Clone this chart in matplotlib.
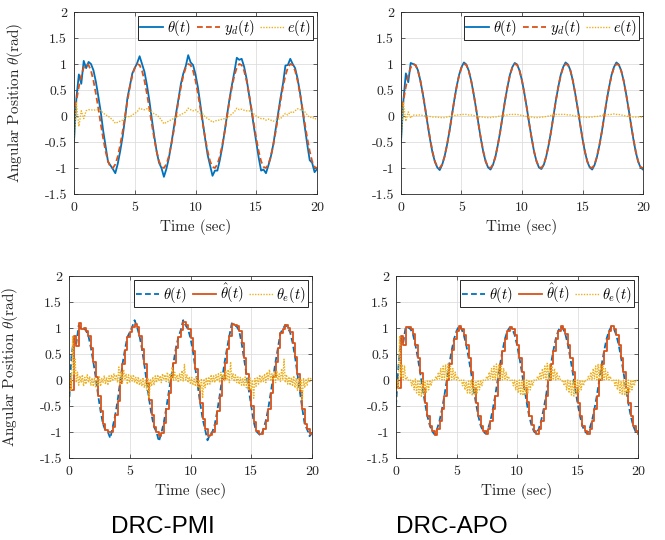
import numpy as np
import matplotlib
matplotlib.use("Agg")
import matplotlib.pyplot as plt

plt.rcParams['font.family'] = ['cmr10', 'DejaVu Serif']
plt.rcParams['mathtext.fontset'] = 'cm'
plt.rcParams['axes.unicode_minus'] = False
plt.rcParams['axes.formatter.use_mathtext'] = True

# ---------------- data ----------------
t = np.arange(101) * 0.2          # 0 .. 20 s
t_fine = np.arange(201) * 0.1     # 0 .. 20 s

x_ticks = [0, 5, 10, 15, 20]
x_tick_labels = ['0', '5', '10', '15', '20']
y_ticks = [-1.5, -1, -0.5, 0, 0.5, 1, 1.5, 2]
y_tick_labels = ['-1.5', '-1', '-0.5', '0', '0.5', '1', '1.5', '2']

y_d = [0.00, 0.30, 0.56, 0.78, 0.93, 1.00, 0.98, 0.87, 0.68, 0.43, 0.15, -0.15, -0.43, -0.68, -0.87, -0.98, -1.00, -0.93, -0.78, -0.56, -0.30,
       0.00, 0.30, 0.56, 0.78, 0.93, 1.00, 0.98, 0.87, 0.68, 0.43, 0.15, -0.15, -0.43, -0.68, -0.87, -0.98, -1.00, -0.93, -0.78, -0.56, -0.30,
       0.00, 0.30, 0.56, 0.78, 0.93, 1.00, 0.98, 0.87, 0.68, 0.43, 0.15, -0.15, -0.43, -0.68, -0.87, -0.98, -1.00, -0.93, -0.78, -0.56, -0.30,
       0.00, 0.30, 0.56, 0.78, 0.93, 1.00, 0.98, 0.87, 0.68, 0.43, 0.15, -0.15, -0.43, -0.68, -0.87, -0.98, -1.00, -0.93, -0.78, -0.56, -0.30,
       0.00, 0.30, 0.56, 0.78, 0.93, 1.00, 0.98, 0.87, 0.68, 0.43, 0.15, -0.15, -0.43, -0.68, -0.87, -0.98, -1.00]

pmi_theta = [-0.50, 0.35, 0.80, 0.62, 1.06, 0.92, 1.04, 1.00, 0.88, 0.66, 0.38, 0.08, -0.28, -0.58, -0.88, -0.95, -1.02, -1.10, -0.92, -0.68, -0.40,
             -0.05, 0.35, 0.58, 0.82, 0.92, 1.02, 1.15, 1.00, 0.85, 0.60, 0.30, -0.05, -0.38, -0.68, -0.90, -1.00, -1.17, -1.02, -0.82, -0.55, -0.25,
             0.05, 0.33, 0.62, 0.82, 0.96, 1.17, 1.03, 0.98, 0.80, 0.55, 0.22, -0.12, -0.45, -0.75, -0.95, -1.15, -1.05, -1.05, -0.85, -0.60, -0.30,
             0.02, 0.33, 0.60, 0.85, 1.12, 1.08, 1.10, 0.95, 0.72, 0.42, 0.12, -0.20, -0.50, -0.80, -1.05, -1.03, -1.10, -0.95, -0.78, -0.55, -0.25,
             0.05, 0.35, 0.62, 0.97, 0.98, 1.10, 1.00, 0.92, 0.72, 0.45, 0.12, -0.22, -0.55, -0.85, -0.90, -1.08, -1.02]

pmi_e = [-0.50, 0.25, -0.20, 0.10, -0.05,
         0.10, 0.12, 0.12, 0.11, 0.12,
         0.12, 0.10, 0.06, 0.02, 0.00,
         -0.04, -0.08, -0.14, -0.12, -0.10,
         -0.08, -0.03, 0.00, -0.02, 0.02,
         0.05, 0.08, 0.15, 0.13, 0.12,
         0.14, 0.10, 0.08, 0.04, 0.02,
         -0.02, -0.08, -0.15, -0.12, -0.10,
         -0.07, -0.05, -0.02, 0.00, 0.03,
         0.05, 0.08, 0.15, 0.12, 0.10,
         0.12, 0.08, 0.05, 0.04, -0.02,
         -0.05, -0.08, -0.12, -0.10, -0.08,
         -0.08, -0.06, -0.05, -0.04, 0.00,
         0.04, 0.08, 0.15, 0.12, 0.13,
         0.11, 0.10, 0.10, 0.08, 0.04,
         0.00, -0.03, -0.05, -0.05, -0.08,
         -0.06, -0.08, -0.10, -0.08, -0.06,
         -0.05, 0.00, 0.05, 0.02, 0.08,
         0.06, 0.10, 0.14, 0.12, 0.12,
         0.08, 0.02, -0.03, -0.02, -0.06,
         -0.04]

apo_theta = [-0.50, 0.30, 0.82, 0.65, 1.02, 1.00, 0.98, 0.88, 0.68, 0.43, 0.14, -0.16, -0.45, -0.70, -0.88, -0.99, -1.04, -0.94, -0.78, -0.56, -0.30,
             0.00, 0.30, 0.57, 0.79, 0.94, 1.03, 0.99, 0.87, 0.68, 0.43, 0.15, -0.15, -0.44, -0.69, -0.88, -0.99, -1.03, -0.94, -0.79, -0.56, -0.30,
             0.00, 0.30, 0.56, 0.79, 0.94, 1.02, 0.99, 0.87, 0.68, 0.43, 0.15, -0.15, -0.43, -0.69, -0.87, -0.99, -1.02, -0.94, -0.78, -0.56, -0.30,
             0.00, 0.30, 0.56, 0.79, 0.94, 1.03, 0.99, 0.88, 0.68, 0.43, 0.15, -0.15, -0.44, -0.69, -0.88, -0.99, -1.03, -0.94, -0.78, -0.56, -0.30,
             0.00, 0.30, 0.56, 0.79, 0.94, 1.03, 0.99, 0.87, 0.68, 0.43, 0.15, -0.15, -0.44, -0.69, -0.88, -0.99, -1.03]

apo_e = [-0.50, 0.25, -0.10, 0.08, -0.04,
         0.02, 0.01, 0.02, 0.02, 0.01,
         0.00, 0.00, -0.01, -0.02, -0.02,
         -0.02, -0.03, -0.03, -0.03, -0.02,
         -0.01, 0.00, 0.01, 0.02, 0.02,
         0.03, 0.03, 0.03, 0.02, 0.02,
         0.01, 0.00, -0.01, -0.02, -0.02,
         -0.03, -0.03, -0.03, -0.02, -0.02,
         -0.01, 0.00, 0.01, 0.02, 0.02,
         0.03, 0.03, 0.03, 0.03, 0.02,
         0.01, 0.00, -0.01, -0.02, -0.02,
         -0.03, -0.03, -0.03, -0.02, -0.02,
         -0.01, 0.00, 0.01, 0.02, 0.03,
         0.03, 0.03, 0.03, 0.03, 0.02,
         0.02, 0.01, 0.00, -0.01, -0.02,
         -0.02, -0.02, -0.03, -0.02, -0.02,
         -0.01, -0.01, 0.00, 0.01, 0.02,
         0.02, 0.03, 0.03, 0.04, 0.03,
         0.03, 0.02, 0.01, 0.00, -0.01,
         -0.01, -0.02, -0.02, -0.02, -0.02,
         -0.02]

pmi_obs_theta = [-0.50, 0.45, 0.80, 0.70, 1.05, 0.98, 1.00, 0.95, 0.85, 0.62, 0.35, 0.05, -0.30, -0.60, -0.85, -0.97, -1.00, -1.12, -0.90, -0.68, -0.40,
                 -0.05, 0.30, 0.58, 0.82, 0.92, 1.02, 1.15, 1.02, 0.85, 0.60, 0.30, -0.05, -0.38, -0.68, -0.90, -1.00, -1.18, -1.02, -0.82, -0.55, -0.25,
                 0.05, 0.33, 0.62, 0.82, 0.96, 1.15, 1.05, 0.98, 0.80, 0.55, 0.22, -0.12, -0.45, -0.75, -0.95, -1.16, -1.05, -1.00, -0.85, -0.60, -0.30,
                 0.02, 0.33, 0.60, 0.85, 1.09, 1.05, 1.03, 0.95, 0.72, 0.42, 0.12, -0.20, -0.50, -0.80, -0.98, -1.03, -1.07, -0.95, -0.78, -0.55, -0.25,
                 0.05, 0.35, 0.62, 0.90, 0.98, 1.06, 1.00, 0.92, 0.72, 0.45, 0.12, -0.22, -0.55, -0.85, -0.95, -1.08, -1.02]

pmi_obs_hat = [0.00, -0.20, 0.85, 0.65, 1.10, 0.98, 1.00, 0.95, 0.85, 0.62, 0.35, 0.05, -0.30, -0.60, -0.85, -0.97, -1.00, -1.00, -0.90, -0.68, -0.40,
               -0.05, 0.30, 0.58, 0.82, 0.92, 1.02, 1.07, 1.02, 0.85, 0.60, 0.30, -0.05, -0.38, -0.68, -0.90, -1.00, -1.08, -1.02, -0.82, -0.55, -0.25,
               0.05, 0.33, 0.62, 0.82, 0.96, 1.12, 1.05, 0.98, 0.80, 0.55, 0.22, -0.12, -0.45, -0.75, -0.95, -1.08, -1.05, -1.00, -0.85, -0.60, -0.30,
               0.02, 0.33, 0.60, 0.85, 1.07, 1.05, 1.03, 0.95, 0.72, 0.42, 0.12, -0.20, -0.50, -0.80, -0.98, -1.03, -1.03, -0.95, -0.78, -0.55, -0.25,
               0.05, 0.35, 0.62, 0.90, 0.98, 1.06, 1.00, 0.92, 0.72, 0.45, 0.12, -0.22, -0.55, -0.85, -0.95, -1.03, -1.02]

pmi_obs_err = [-0.50, 0.10, -0.20, 0.85, 0.10, 0.40, -0.05, 0.15, -0.10, 0.08,
               -0.05, 0.10, -0.12, 0.05, -0.08, 0.10, -0.05, 0.06, -0.10, 0.04,
               -0.12, 0.05, -0.15, 0.02, -0.10, 0.06, -0.12, 0.03, -0.05, 0.08,
               -0.08, 0.05, -0.10, 0.08, -0.05, 0.10, -0.02, 0.12, 0.00, 0.10,
               -0.05, 0.25, -0.10, 0.15, -0.05, 0.20, 0.00, 0.12, -0.08, 0.10,
               -0.05, 0.08, -0.02, 0.10, -0.05, 0.05, -0.08, 0.06, -0.10, 0.02,
               -0.12, 0.05, -0.15, 0.00, -0.20, 0.04, -0.35, 0.02, -0.12, 0.06,
               -0.10, 0.08, -0.05, 0.10, -0.02, 0.08, -0.05, 0.12, 0.00, 0.10,
               -0.03, 0.15, -0.05, 0.12, 0.02, 0.25, -0.02, 0.15, 0.00, 0.10,
               -0.05, 0.12, 0.00, 0.18, -0.02, 0.30, 0.00, 0.10, -0.05, 0.06,
               -0.08, 0.05, -0.10, 0.02, -0.12, 0.05, -0.15, 0.00, -0.20, 0.03,
               -0.35, 0.02, -0.15, 0.05, -0.10, 0.06, -0.08, 0.10, -0.05, 0.08,
               -0.05, 0.10, -0.02, 0.12, -0.05, 0.15, 0.00, 0.10, -0.03, 0.18,
               0.00, 0.20, -0.05, 0.35, 0.02, 0.12, -0.03, 0.10, -0.05, 0.06,
               -0.08, 0.05, -0.10, 0.04, -0.12, 0.06, -0.15, 0.02, -0.18, 0.04,
               -0.20, 0.00, -0.35, 0.03, -0.12, 0.06, -0.08, 0.10, -0.05, 0.08,
               -0.03, 0.12, -0.05, 0.15, 0.00, 0.20, -0.02, 0.12, 0.00, 0.15,
               -0.05, 0.18, 0.00, 0.12, -0.03, 0.22, 0.00, 0.40, -0.05, 0.10,
               -0.08, 0.06, -0.10, 0.05, -0.12, 0.08, -0.15, 0.04, -0.20, 0.05,
               -0.18, 0.02, -0.40, 0.04, -0.15, 0.02, -0.10, 0.05, -0.05, 0.03,
               0.00]

apo_obs_theta = [-0.50, 0.25, 0.80, 0.72, 1.02, 1.01, 0.98, 0.88, 0.68, 0.43, 0.14, -0.16, -0.45, -0.70, -0.88, -0.99, -1.05, -0.94, -0.78, -0.56, -0.30,
                 0.00, 0.30, 0.57, 0.79, 0.94, 1.04, 0.99, 0.87, 0.68, 0.43, 0.15, -0.15, -0.44, -0.69, -0.88, -0.99, -1.03, -0.94, -0.79, -0.56, -0.30,
                 0.00, 0.30, 0.56, 0.79, 0.94, 1.01, 0.99, 0.87, 0.68, 0.43, 0.15, -0.15, -0.43, -0.69, -0.87, -0.99, -1.03, -0.94, -0.78, -0.56, -0.30,
                 0.00, 0.30, 0.56, 0.79, 0.94, 1.03, 0.99, 0.88, 0.68, 0.43, 0.15, -0.15, -0.44, -0.69, -0.88, -0.99, -1.03, -0.94, -0.78, -0.56, -0.30,
                 0.00, 0.30, 0.56, 0.79, 0.94, 1.03, 0.99, 0.87, 0.68, 0.43, 0.15, -0.15, -0.44, -0.69, -0.88, -0.99, -1.03]

apo_obs_hat = [0.00, -0.15, 0.85, 0.68, 1.02, 1.01, 0.98, 0.88, 0.68, 0.43, 0.14, -0.16, -0.45, -0.70, -0.88, -0.99, -1.05, -0.94, -0.78, -0.56, -0.30,
               0.00, 0.30, 0.57, 0.79, 0.94, 1.04, 0.99, 0.87, 0.68, 0.43, 0.15, -0.15, -0.44, -0.69, -0.88, -0.99, -1.03, -0.94, -0.79, -0.56, -0.30,
               0.00, 0.30, 0.56, 0.79, 0.94, 1.01, 0.99, 0.87, 0.68, 0.43, 0.15, -0.15, -0.43, -0.69, -0.87, -0.99, -1.03, -0.94, -0.78, -0.56, -0.30,
               0.00, 0.30, 0.56, 0.79, 0.94, 1.03, 0.99, 0.88, 0.68, 0.43, 0.15, -0.15, -0.44, -0.69, -0.88, -0.99, -1.03, -0.94, -0.78, -0.56, -0.30,
               0.00, 0.30, 0.56, 0.79, 0.94, 1.03, 0.99, 0.87, 0.68, 0.43, 0.15, -0.15, -0.44, -0.69, -0.88, -0.99, -1.03]

apo_obs_err = [-0.50, 0.00, -0.15, 0.85, 0.05, 0.30, 0.00, 0.28, 0.00, 0.06,
               0.00, -0.02, 0.00, -0.11, 0.00, -0.19, 0.02, -0.25, 0.00, -0.29,
               0.00, -0.33, 0.00, -0.29, -0.02, -0.25, 0.00, -0.19, 0.00, -0.11,
               0.00, -0.02, 0.00, 0.07, 0.00, 0.15, 0.02, 0.22, 0.00, 0.27,
               0.00, 0.30, 0.00, 0.31, 0.03, 0.27, 0.00, 0.22, 0.00, 0.15,
               0.00, 0.07, 0.00, -0.02, 0.00, -0.11, 0.00, -0.19, -0.03, -0.25,
               0.00, -0.27, 0.00, -0.30, 0.00, -0.29, -0.02, -0.25, 0.00, -0.19,
               0.00, -0.11, 0.00, -0.02, 0.00, 0.07, 0.00, 0.15, 0.02, 0.22,
               0.00, 0.27, 0.00, 0.31, 0.03, 0.30, 0.00, 0.27, 0.00, 0.22,
               0.00, 0.15, 0.00, 0.07, 0.00, -0.02, 0.00, -0.11, 0.00, -0.19,
               -0.02, -0.25, 0.00, -0.29, 0.00, -0.30, 0.00, -0.29, 0.00, -0.25,
               0.00, -0.19, 0.00, -0.11, 0.00, -0.02, 0.00, 0.07, 0.00, 0.15,
               0.00, 0.22, 0.02, 0.27, 0.00, 0.32, 0.00, 0.30, 0.00, 0.27,
               0.00, 0.22, 0.00, 0.15, 0.00, 0.07, 0.00, -0.02, 0.00, -0.11,
               0.00, -0.19, 0.00, -0.25, -0.02, -0.29, 0.00, -0.31, 0.00, -0.29,
               0.00, -0.25, 0.00, -0.19, 0.00, -0.11, 0.00, -0.02, 0.00, 0.07,
               0.00, 0.15, 0.00, 0.22, 0.02, 0.27, 0.00, 0.31, 0.00, 0.30,
               0.00, 0.27, 0.00, 0.22, 0.00, 0.15, 0.00, 0.07, 0.00, -0.02,
               0.00, -0.11, 0.00, -0.19, 0.00, -0.25, -0.02, -0.29, 0.00, -0.30,
               0.00, -0.29, 0.00, -0.25, 0.00, -0.19, 0.00, -0.11, 0.00, -0.02,
               0.00]

col_blue = '#0072BD'
col_orange = '#D95319'
col_yellow = '#EDB120'

# ---------------- figure ----------------
W, H = 665, 540
fig = plt.figure(figsize=(W / 100, H / 100), dpi=100)

def px_axes(x0, y0, x1, y1):
    return fig.add_axes([x0 / W, 1 - y1 / H, (x1 - x0) / W, (y1 - y0) / H])

def style(ax, ylabel=False):
    ax.set_xlim(0, 20)
    ax.set_ylim(-1.5, 2)
    ax.set_xticks(x_ticks)
    ax.set_xticklabels(x_tick_labels)
    ax.set_yticks(y_ticks)
    ax.set_yticklabels(y_tick_labels)
    ax.grid(True, color='#dedede', linewidth=0.6)
    ax.set_axisbelow(True)
    for s in ax.spines.values():
        s.set_color('#262626')
        s.set_linewidth(0.6)
    ax.tick_params(direction='in', length=3, width=0.5, color='#262626',
                   labelsize=10, labelcolor='#262626', top=True, right=True)
    ax.tick_params(axis='x', pad=6)
    ax.tick_params(axis='y', pad=5)
    ax.set_xlabel('Time (sec)', fontsize=11, color='#262626', labelpad=3)
    if ylabel:
        ax.set_ylabel(r'Angular Position $\theta$(rad)', fontsize=11, color='#262626', labelpad=14)

def legend(ax, labels):
    leg = ax.legend(labels=labels, loc='upper right', ncol=3, fontsize=10.5,
                    frameon=True, fancybox=False, framealpha=1, edgecolor='#262626',
                    borderpad=0.15, handlelength=1.6, handletextpad=0.25,
                    columnspacing=0.4, borderaxespad=0.25)
    leg.get_frame().set_linewidth(0.7)

lw = 1.3

# top-left: DRC-PMI tracking
ax1 = px_axes(74, 12, 317, 194)
ax1.plot(t, pmi_theta, color=col_blue, lw=lw)
ax1.plot(t, y_d, color=col_orange, lw=lw, ls=(0, (3.2, 1.8)))
ax1.plot(t, pmi_e, color=col_yellow, lw=1.0, ls=(0, (1, 1)))
style(ax1, ylabel=True)
legend(ax1, [r'$\theta(t)$', r'$y_d(t)$', r'$e(t)$'])

# top-right: DRC-APO tracking
ax2 = px_axes(401, 12, 643, 194)
ax2.plot(t, apo_theta, color=col_blue, lw=lw)
ax2.plot(t, y_d, color=col_orange, lw=lw, ls=(0, (3.2, 1.8)))
ax2.plot(t, apo_e, color=col_yellow, lw=1.0, ls=(0, (1, 1)))
style(ax2)
legend(ax2, [r'$\theta(t)$', r'$y_d(t)$', r'$e(t)$'])

# bottom-left: DRC-PMI observer
ax3 = px_axes(69, 276, 312, 458)
ax3.plot(t, pmi_obs_theta, color=col_blue, lw=lw, ls=(0, (3.2, 1.8)))
ax3.plot(t, pmi_obs_hat, color=col_orange, lw=lw, drawstyle='steps-post')
ax3.plot(t_fine, pmi_obs_err, color=col_yellow, lw=1.0, ls=(0, (1, 1)))
style(ax3, ylabel=True)
legend(ax3, [r'$\theta(t)$', r'$\hat{\theta}(t)$', r'$\theta_e(t)$'])

# bottom-right: DRC-APO observer
ax4 = px_axes(396, 276, 638, 458)
ax4.plot(t, apo_obs_theta, color=col_blue, lw=lw, ls=(0, (3.2, 1.8)))
ax4.plot(t, apo_obs_hat, color=col_orange, lw=lw, drawstyle='steps-post')
ax4.plot(t_fine, apo_obs_err, color=col_yellow, lw=1.0, ls=(0, (1, 1)))
style(ax4)
legend(ax4, [r'$\theta(t)$', r'$\hat{\theta}(t)$', r'$\theta_e(t)$'])

fig.text(163 / W, 1 - 527 / H, 'DRC-PMI', ha='center', va='center',
         fontsize=17.5, family=['Liberation Sans', 'DejaVu Sans'])
fig.text(452 / W, 1 - 527 / H, 'DRC-APO', ha='center', va='center',
         fontsize=17.5, family=['Liberation Sans', 'DejaVu Sans'])

fig.savefig('out.png', dpi=100)
